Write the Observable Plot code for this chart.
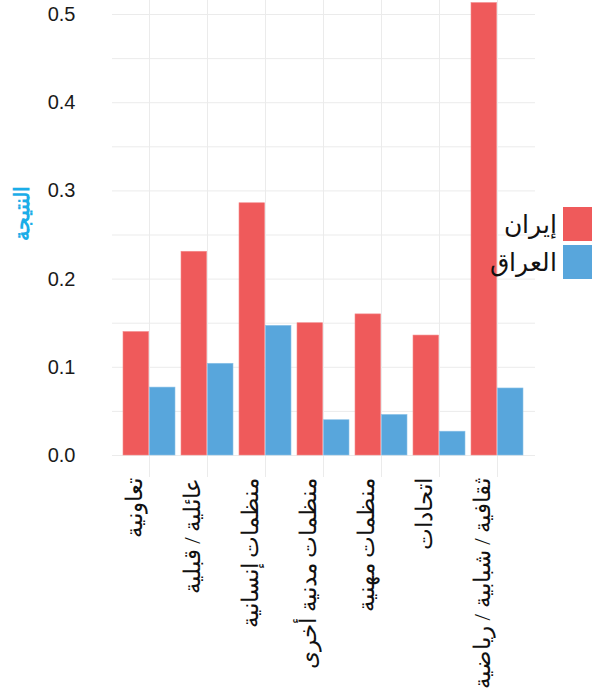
<!DOCTYPE html>
<html>
<head>
<meta charset="utf-8">
<script src="https://cdn.jsdelivr.net/npm/d3@7"></script>
<script src="https://cdn.jsdelivr.net/npm/@observablehq/plot@0.6"></script>
<style>
  html, body { margin: 0; padding: 0; background: #fff; }
  #wrap { position: relative; width: 592px; height: 697px; overflow: hidden; }
  #legend { position: absolute; top: 207px; right: 0; font-family: "Times New Roman", "Liberation Serif", serif; font-size: 25px; color: #111; }
  .item { display: flex; align-items: center; justify-content: flex-end; height: 34px; margin-bottom: 4px; }
  .sw { width: 29px; height: 34px; margin-left: 6px; }
</style>
</head>
<body>
<div id="wrap"><div id="chart"></div><div id="legend"></div></div>
<script>
const categories = ["تعاونية", "عائلية / قبلية", "منظمات إنسانية", "منظمات مدنية أخرى", "منظمات مهنية", "اتحادات", "ثقافية / شبابية / رياضية"];
const iran = [0.140, 0.231, 0.286, 0.150, 0.160, 0.136, 0.513];
const iraq = [0.077, 0.104, 0.147, 0.040, 0.046, 0.027, 0.076];
const seriesNames = ["إيران", "العراق"];
const seriesColors = ["#EF5A5B", "#58A6DC"];
const yTicks = [0, 0.1, 0.2, 0.3, 0.4, 0.5];
const yGrid = [0, 0.05, 0.1, 0.15, 0.2, 0.25, 0.3, 0.35, 0.4, 0.45, 0.5];
const yTitle = "النتيجة";

const rows = categories.map((c, i) => ({category: c, iran: iran[i], iraq: iraq[i]}));
const arabicFont = "'Times New Roman', 'Liberation Serif', serif";
const half = 26.4;

const chart = Plot.plot({
  width: 592,
  height: 697,
  marginTop: 0,
  marginBottom: 242,
  marginLeft: 112,
  marginRight: 57,
  style: {fontFamily: "'Liberation Sans', Arial, sans-serif", fontSize: "20px", color: "#1a1a1a", background: "#fff"},
  x: {type: "band", domain: categories, paddingInner: 0.1, paddingOuter: 0.155, axis: null},
  y: {domain: [0, 0.5159], axis: null},
  marks: [
    Plot.gridY(yGrid, {stroke: "#ebebeb", strokeOpacity: 1, strokeWidth: 1}),
    Plot.gridX(categories, {stroke: "#ebebeb", strokeOpacity: 1, strokeWidth: 1}),
    Plot.axisX(categories, {tickSize: 22, tickFormat: () => "", stroke: "#ebebeb", label: null}),
    Plot.barY(rows, {x: "category", y: "iran", fill: seriesColors[0], insetRight: half, stroke: "#f48a8b", strokeWidth: 0.6}),
    Plot.barY(rows, {x: "category", y: "iraq", fill: seriesColors[1], insetLeft: half, stroke: "#8cc2e8", strokeWidth: 0.6}),
    Plot.axisY(yTicks, {tickSize: 0, tickPadding: 37, tickFormat: d3.format(".1f"), fontSize: 20, label: null}),
    Plot.text(categories, {x: d => d, frameAnchor: "bottom", rotate: -90, textAnchor: "end", dy: 22, dx: -8, fontSize: 23, fontFamily: arabicFont, fill: "#111"}),
    Plot.text([yTitle], {frameAnchor: "left", rotate: -90, textAnchor: "middle", dx: -90, dy: -15, fontSize: 21, fontWeight: "bold", fontFamily: arabicFont, fill: "#1BADE8"})
  ]
});
document.getElementById("chart").appendChild(chart);

const legend = document.getElementById("legend");
seriesNames.forEach((name, i) => {
  const item = document.createElement("div");
  item.className = "item";
  const label = document.createElement("span");
  label.textContent = name;
  const sw = document.createElement("div");
  sw.className = "sw";
  sw.style.background = seriesColors[i];
  item.appendChild(label);
  item.appendChild(sw);
  legend.appendChild(item);
});
</script>
</body>
</html>
